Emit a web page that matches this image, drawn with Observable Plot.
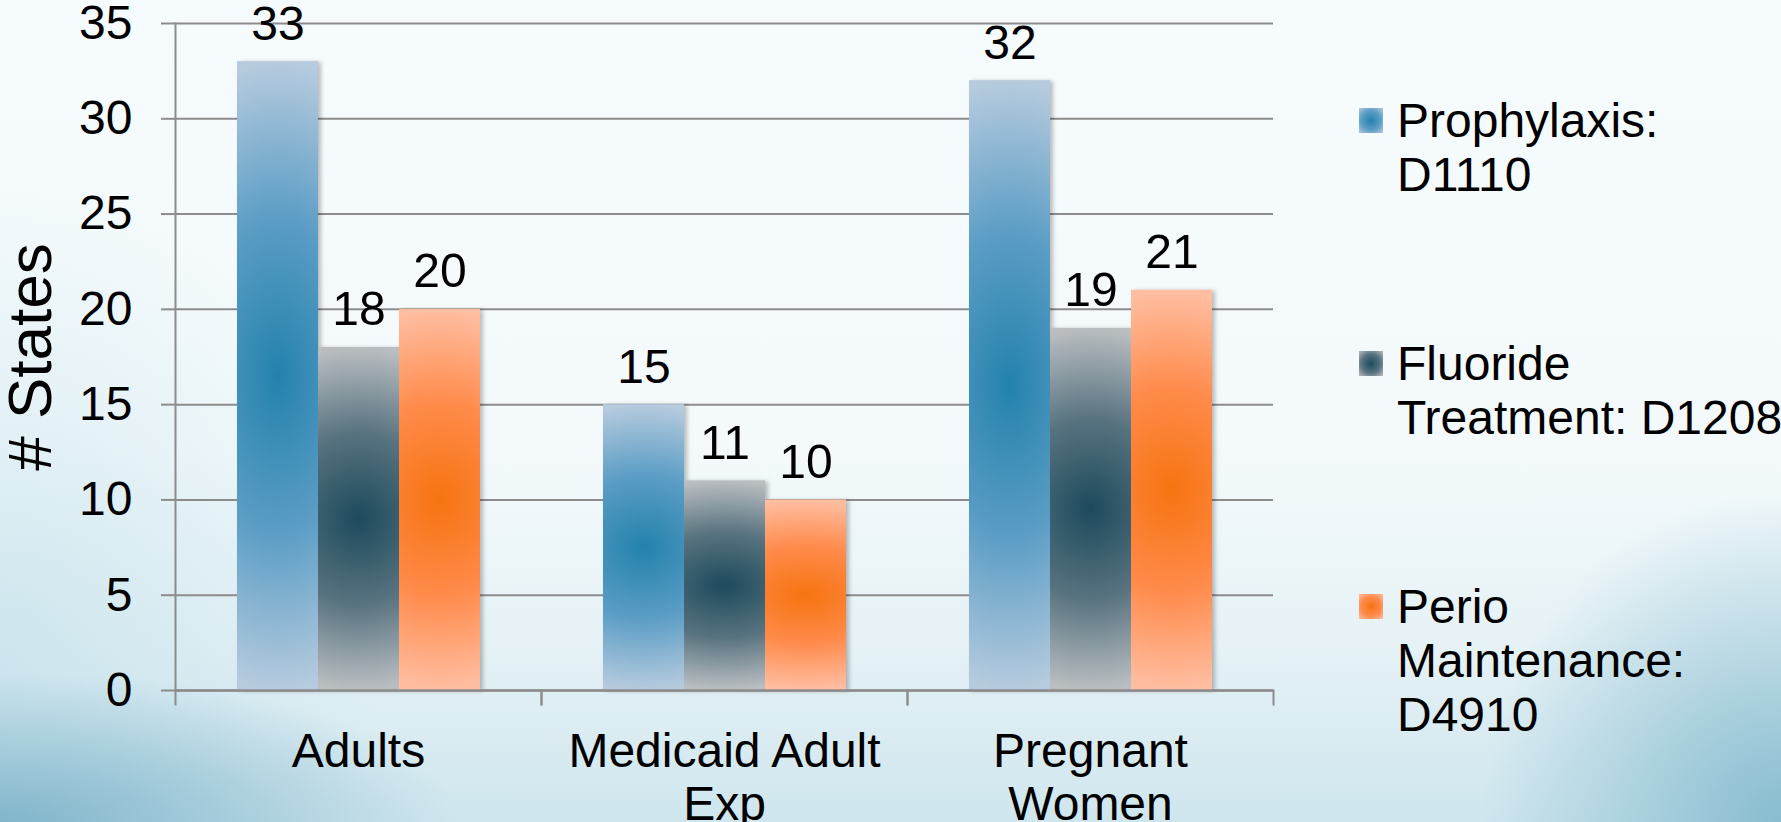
<!DOCTYPE html>
<html>
<head>
<meta charset="utf-8">
<script src="https://cdn.jsdelivr.net/npm/d3@7"></script>
<script src="https://cdn.jsdelivr.net/npm/@observablehq/plot@0.6"></script>
<style>
  html, body { margin: 0; padding: 0; width: 1781px; height: 822px; overflow: hidden; }
  body {
    position: relative;
    font-family: "Liberation Sans", Arial, sans-serif;
    color: #000;
    background:
      radial-gradient(ellipse 460px 150px at 0% 100%, rgba(112,170,195,0.8), rgba(112,170,195,0) 100%),
      radial-gradient(ellipse 300px 330px at 100% 100%, rgba(118,178,200,0.8), rgba(118,178,200,0) 100%),
      radial-gradient(ellipse 380px 480px at 0% 80%, rgba(185,219,231,0.55), rgba(185,219,231,0) 100%),
      linear-gradient(to bottom, #f6fbfd 0%, #f4fafc 55%, #e6f2f6 78%, #cfe6ee 100%);
  }
  #chart { position: absolute; left: 0; top: 0; }
  #chart g[aria-label="bar"] { filter: drop-shadow(3px 1px 2px rgba(0,0,0,0.25)); }
  #legend { position: absolute; left: 0; top: 0; }
  .item { position: absolute; }
  .swatch { position: absolute; left: 0; width: 24px; height: 25px; }
  .item-text { position: absolute; left: 38px; top: 0; white-space: pre; font-size: 48px; line-height: 54px; }
</style>
</head>
<body>
<svg width="0" height="0" style="position:absolute">
  <defs id="gradients"></defs>
</svg>
<div id="chart"></div>
<div id="legend"></div>
<script>
// Number of states covering each adult dental service, by population group
const groups = ["Adults", "Medicaid Adult Exp", "Pregnant Women"];
const groupLabels = ["Adults", "Medicaid Adult\nExp", "Pregnant\nWomen"];
const series = ["Prophylaxis: D1110", "Fluoride Treatment: D1208", "Perio Maintenance: D4910"];
const legendLabels = ["Prophylaxis:\nD1110", "Fluoride\nTreatment: D1208", "Perio\nMaintenance:\nD4910"];
const prophylaxis = [33, 15, 32];
const fluoride = [18, 11, 19];
const perio = [20, 10, 21];
const yTicks = [0, 5, 10, 15, 20, 25, 30, 35];

// Gradient stops per series: centre, middle, edge
const seriesShades = [
  ["#2382ad", "#5b9dc5", "#b6cbde"],
  ["#1d4a5c", "#587380", "#babec1"],
  ["#f67410", "#ff8a4a", "#ffbea2"]
];

const values = [prophylaxis, fluoride, perio];
const data = groups.flatMap((g, i) =>
  series.map((s, j) => ({group: g, series: s, value: values[j][i]}))
);

// Shaded fills for the bars (a soft glow from the bar's centre)
const defs = d3.select("#gradients");
seriesShades.forEach((shades, j) => {
  const grad = defs.append("radialGradient")
    .attr("id", `shade-${j}`)
    .attr("cx", 0.5).attr("cy", 0.5).attr("r", 0.5)
    .attr("gradientTransform", "translate(0.5,0.5) scale(4,1) translate(-0.5,-0.5)");
  grad.append("stop").attr("offset", "0%").attr("stop-color", shades[0]);
  grad.append("stop").attr("offset", "50%").attr("stop-color", shades[1]);
  grad.append("stop").attr("offset", "100%").attr("stop-color", shades[2]);
});

const W = 1781, H = 822;
const margin = {top: 23, right: 507, bottom: 132, left: 174};
const frameHeight = H - margin.top - margin.bottom;
const lineColor = "#8c8c8c";
const tickLength = 14;

const chart = Plot.plot({
  width: W,
  height: H,
  marginTop: margin.top,
  marginRight: margin.right,
  marginBottom: margin.bottom,
  marginLeft: margin.left,
  style: {
    fontFamily: "'Liberation Sans', Arial, sans-serif",
    fontSize: "48px",
    color: "#000",
    background: "transparent",
    overflow: "visible"
  },
  fx: {domain: groups, padding: 0},
  x: {domain: series, paddingInner: 0, paddingOuter: 0.74, axis: null},
  y: {domain: [0, 35]},
  color: {domain: series, range: series.map((_, j) => `url(#shade-${j})`)},
  marks: [
    Plot.gridY(yTicks, {stroke: lineColor, strokeOpacity: 1, strokeWidth: 2}),
    Plot.barY(data, {fx: "group", x: "series", y: "value", fill: "series"}),
    Plot.ruleY([0], {stroke: lineColor, strokeWidth: 2.5}),
    // category boundary ticks below the baseline
    Plot.frame({anchor: "left", insetTop: frameHeight, insetBottom: -tickLength, stroke: lineColor, strokeWidth: 2}),
    Plot.frame({anchor: "right", insetTop: frameHeight, insetBottom: -tickLength, stroke: lineColor, strokeWidth: 2}),
    // value axis line
    Plot.frame({anchor: "left", fx: [groups[0]], stroke: lineColor, strokeWidth: 2}),
    Plot.axisY({
      ticks: yTicks, tickSize: tickLength, tickPadding: 29, stroke: lineColor, strokeWidth: 2,
      fontSize: 48, label: null
    }),
    Plot.axisY({
      ticks: [], label: "# States", labelAnchor: "center", labelArrow: "none",
      labelOffset: 169, fontSize: 62
    }),
    Plot.axisFx({
      anchor: "bottom", tickSize: 0, tickPadding: 39, fontSize: 48, lineHeight: 1.1,
      label: null, tickFormat: (g) => groupLabels[groups.indexOf(g)]
    }),
    Plot.text(data, {
      fx: "group", x: "series", y: "value", text: (d) => String(d.value),
      lineAnchor: "bottom", dy: -22, fontSize: 48, fill: "#000"
    })
  ]
});
document.getElementById("chart").append(chart);

// Legend at the right
const legend = d3.select("#legend");
const legendLeft = 1359, legendTop = 94, legendStep = 243;
series.forEach((s, j) => {
  const item = legend.append("div").attr("class", "item")
    .style("left", `${legendLeft}px`)
    .style("top", `${legendTop + j * legendStep}px`);
  const [c0, c1, c2] = seriesShades[j];
  item.append("div").attr("class", "swatch")
    .style("top", "14px")
    .style("background", `radial-gradient(circle, ${c0} 0%, ${c1} 55%, ${c2} 100%)`);
  item.append("div").attr("class", "item-text").text(legendLabels[j]);
});
</script>
</body>
</html>
